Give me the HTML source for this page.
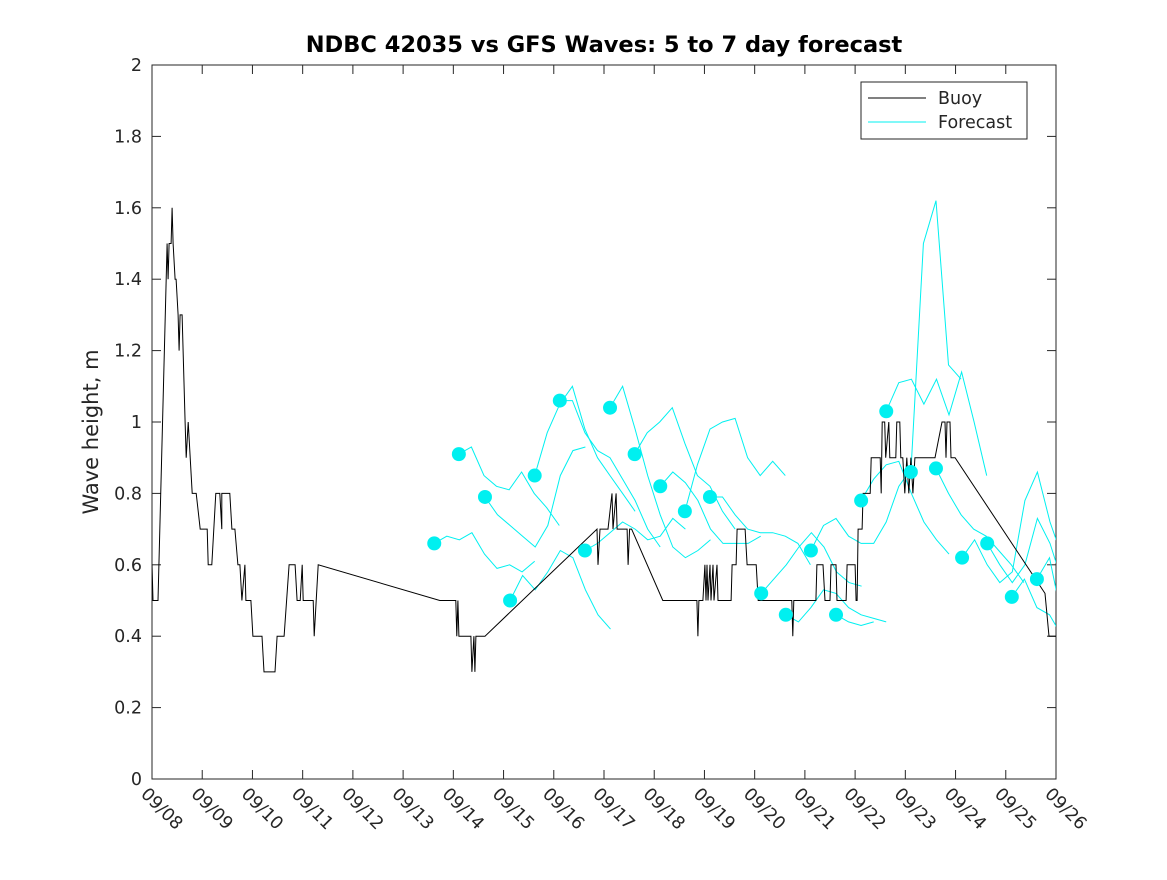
<!DOCTYPE html>
<html><head><meta charset="utf-8"><style>
body{margin:0;background:#fff;}
svg{font-family:"DejaVu Sans","Liberation Sans",sans-serif;}
</style></head><body>
<svg id="chart" width="1167" height="875"><defs><clipPath id="pc"><rect x="152" y="65" width="904" height="714"/></clipPath></defs></svg>
<script>
const xTickLabels=["09/08","09/09","09/10","09/11","09/12","09/13","09/14","09/15","09/16","09/17","09/18","09/19","09/20","09/21","09/22","09/23","09/24","09/25","09/26"];
const yTicks=[0,0.2,0.4,0.6,0.8,1,1.2,1.4,1.6,1.8,2];
const buoyDays=[0,.02,.12,.30,.32,.34,.38,.40,.42,.46,.48,.52,.54,.56,.60,.66,.68,.72,.76,.80,.88,.96,1.10,1.12,1.19,1.27,1.35,1.39,1.39,1.55,1.59,1.65,1.71,1.75,1.79,1.85,1.87,1.97,2.01,2.19,2.23,2.45,2.49,2.63,2.73,2.85,2.89,2.95,2.99,3.01,3.21,3.23,3.27,3.31,5.73,6.05,6.07,6.09,6.11,6.15,6.35,6.37,6.41,6.43,6.45,6.63,8.86,8.88,8.92,9.08,9.16,9.18,9.24,9.26,9.46,9.48,9.51,9.55,10.17,10.85,10.87,10.89,10.97,11.01,11.03,11.05,11.07,11.11,11.13,11.17,11.19,11.25,11.27,11.53,11.55,11.63,11.65,11.81,11.85,12.03,12.07,12.74,12.76,12.78,13.22,13.24,13.36,13.40,13.50,13.52,13.62,13.64,13.82,13.84,14.00,14.02,14.04,14.06,14.14,14.16,14.30,14.32,14.50,14.52,14.54,14.59,14.61,14.67,14.69,14.81,14.83,14.89,14.91,14.95,14.99,15.03,15.07,15.11,15.15,15.19,15.59,15.73,15.79,15.81,15.83,15.89,15.91,15.99,17.78,17.86,18];
const buoyVals=[.6,.5,.5,1.5,1.4,1.5,1.5,1.6,1.5,1.4,1.4,1.3,1.2,1.3,1.3,1.0,.9,1.0,.9,.8,.8,.7,.7,.6,.6,.8,.8,.7,.8,.8,.7,.7,.6,.6,.5,.6,.5,.5,.4,.4,.3,.3,.4,.4,.6,.6,.5,.5,.6,.5,.5,.4,.5,.6,.5,.5,.4,.5,.4,.4,.4,.3,.4,.3,.4,.4,.7,.6,.7,.7,.8,.7,.8,.7,.7,.6,.7,.7,.5,.5,.4,.5,.5,.6,.5,.6,.5,.6,.5,.6,.5,.6,.5,.5,.6,.6,.7,.7,.6,.6,.5,.5,.4,.5,.5,.6,.6,.5,.5,.6,.6,.5,.5,.6,.6,.5,.5,.7,.7,.8,.8,.9,.9,.8,1.0,1.0,.9,1.0,.9,.9,1.0,1.0,.9,.9,.8,.9,.8,.9,.8,.9,.9,1.0,1.0,.9,1.0,1.0,.9,.9,.52,.4,.4];
const fcStart=[5.62,6.11,6.63,7.13,7.62,8.12,8.62,9.12,9.61,10.12,10.61,11.11,12.13,12.62,13.12,13.62,14.12,14.62,15.11,15.61,16.13,16.63,17.12,17.62];
const fc1=[.66,.68,.67,.69,.63,.59,.60,.58,.61];
const fc2=[.91,.93,.85,.82,.81,.86,.80,.76,.71];
const fc3=[.79,.74,.71,.68,.65,.71,.85,.92,.93];
const fc4=[.50,.57,.53,.58,.64,.62,.53,.46,.42];
const fc5=[.85,.97,1.05,1.10,.98,.90,.85,.80,.75];
const fc6=[1.06,1.06,.97,.92,.90,.84,.78,.70,.65];
const fc7=[.64,.66,.69,.72,.70,.67,.68,.73,.70];
const fc8=[1.04,1.10,.98,.85,.74,.65,.62,.64,.67];
const fc9=[.91,.97,1.00,1.04,.94,.85,.82,.75,.70];
const fc10=[.82,.86,.83,.78,.70,.66,.66,.66,.68];
const fc11=[.75,.88,.98,1.00,1.01,.90,.85,.89,.85];
const fc12=[.79,.79,.74,.70,.69,.69,.68,.66,.60];
const fc13=[.52,.56,.60,.65,.69,.65,.58,.55,.54];
const fc14=[.46,.44,.48,.53,.52,.48,.46,.45,.44];
const fc15=[.64,.71,.73,.68,.66,.66,.72,.82,.87];
const fc16=[.46,.44,.43,.44];
const fc17=[.78,.84,.88,.89,.80,.72,.67,.63];
const fc18=[1.03,1.11,1.12,1.05,1.12,1.02,1.14,1.00,.85];
const fc19=[.86,1.50,1.62,1.16,1.12];
const fc20=[.87,.80,.74,.70,.68,.64,.60,.55];
const fc21=[.62,.67,.60,.55,.58,.78,.86,.72,.62];
const fc22=[.66,.60,.55,.60,.73,.66,.55,.45];
const fc23=[.51,.56,.48,.46,.40,.32,.30];
const fc24=[.56,.62,.45];
const fcSeries=[fc1,fc2,fc3,fc4,fc5,fc6,fc7,fc8,fc9,fc10,fc11,fc12,fc13,fc14,fc15,fc16,fc17,fc18,fc19,fc20,fc21,fc22,fc23,fc24];
const fcStep=0.25;

const L=152,R=1056,T=65,B=779,NS='http://www.w3.org/2000/svg';
const xs=d=>L+d*(R-L)/18;
const ys=v=>B-v*(B-T)/2;
const svg=document.getElementById('chart');
function mk(tag,attrs,parent){const e=document.createElementNS(NS,tag);for(const k in attrs)e.setAttribute(k,attrs[k]);(parent||svg).appendChild(e);return e;}

const box=mk('rect',{x:L,y:T,width:R-L,height:B-T,fill:'#fff',stroke:'#262626','stroke-width':1});


yTicks.forEach(v=>{
  const y=ys(v);
  mk('line',{x1:L,x2:L+9,y1:y,y2:y,stroke:'#262626'});
  mk('line',{x1:R,x2:R-9,y1:y,y2:y,stroke:'#262626'});
  const t=mk('text',{x:L-10,y:y+6,'text-anchor':'end','font-size':17.5,fill:'#262626'});
  t.textContent=String(v);
  
  
});
xTickLabels.forEach((lab,i)=>{
  const x=xs(i);
  mk('line',{x1:x,x2:x,y1:B,y2:B-9,stroke:'#262626'});
  mk('line',{x1:x,x2:x,y1:T,y2:T+9,stroke:'#262626'});
  const t=mk('text',{x:x-12,y:B+16,'font-size':17.5,fill:'#262626',transform:`rotate(45 ${x-12} ${B+16})`});
  t.textContent=lab;
  
  
});
const g=mk('g',{'clip-path':'url(#pc)'});


fcSeries.forEach((vals,i)=>{
  const pts=vals.map((v,j)=>xs(fcStart[i]+j*fcStep).toFixed(1)+','+ys(v).toFixed(1)).join(' ');
  const p=mk('polyline',{points:pts,fill:'none',stroke:'#00f0f0','stroke-width':1},g);
  
  
});
const bp=mk('polyline',{points:buoyDays.map((d,i)=>xs(d).toFixed(1)+','+ys(buoyVals[i]).toFixed(1)).join(' '),fill:'none',stroke:'#000','stroke-width':1},g);


fcSeries.forEach((vals,i)=>{
  const c=mk('circle',{cx:xs(fcStart[i]),cy:ys(vals[0]),r:7,fill:'#00f0f0'});
  
  
});
const tt=mk('text',{x:604,y:52,'text-anchor':'middle','font-size':22.5,'font-weight':'bold',fill:'#000'});
tt.textContent='NDBC 42035 vs GFS Waves: 5 to 7 day forecast';


const yl=mk('text',{x:98,y:432,'text-anchor':'middle','font-size':21,fill:'#262626',transform:'rotate(-90 98 432)'});
yl.textContent='Wave height, m';


const lg=mk('g',{});


mk('rect',{x:861,y:82,width:166,height:57,fill:'#fff',stroke:'#262626'},lg);
mk('line',{x1:868,x2:926,y1:98,y2:98,stroke:'#000'},lg);
mk('line',{x1:868,x2:926,y1:122,y2:122,stroke:'#00f0f0'},lg);
const l1=mk('text',{x:938,y:104,'font-size':17.5,fill:'#262626'},lg);l1.textContent='Buoy';


const l2=mk('text',{x:938,y:128,'font-size':17.5,fill:'#262626'},lg);l2.textContent='Forecast';


</script>
</body></html>
